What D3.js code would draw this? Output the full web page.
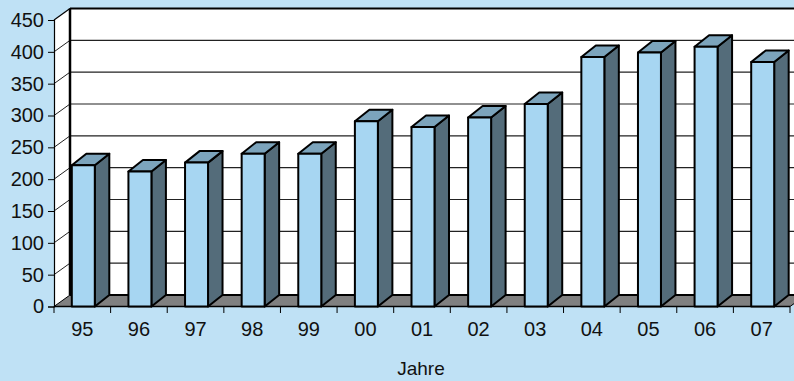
<!DOCTYPE html>
<html><head><meta charset="utf-8">
<script src="https://cdn.jsdelivr.net/npm/d3@7"></script>
<style>
html,body{margin:0;padding:0;background:#bfe1f5;}
svg{display:block;}
text{font-family:"Liberation Sans",Arial,sans-serif;fill:#111;}
</style></head>
<body>
<svg id="chart" width="794" height="381"></svg>
<script>
const categories = ["95","96","97","98","99","00","01","02","03","04","05","06","07"];
const values = [222, 212, 226, 240, 240, 291, 282, 297, 318, 392, 399, 408, 384];
const yTicks = [0,50,100,150,200,250,300,350,400,450];
const xTitle = "Jahre";

const W = 794, H = 381;
const svg = d3.select("#chart");
svg.append("rect").attr("width",W).attr("height",H).attr("fill","#bfe1f5");

const x0 = 54, x1 = 790, yBase = 306.5, yTop = 20;
const wdx = 16, wdy = -11.5;     // wall depth
const bdx = 14.5, bdy = -11.5;   // bar depth

const x = d3.scaleBand().domain(categories).range([x0, x1]).paddingInner(0.594).paddingOuter(0.297);
const y = d3.scaleLinear().domain([0, 450]).range([yBase, yTop]);

const g = svg.append("g");

// back wall
g.append("rect").attr("x", x0+wdx).attr("y", yTop+wdy).attr("width", W-(x0+wdx)+10).attr("height", yBase-yTop).attr("fill","#fff");
// left wall
g.append("polygon").attr("points", [[x0,yTop],[x0+wdx,yTop+wdy],[x0+wdx,yBase+wdy],[x0,yBase]].map(p=>p.join(",")).join(" ")).attr("fill","#fff");
// floor
g.append("polygon").attr("points", [[x0,yBase],[x0+wdx,yBase+wdy],[x1+wdx,yBase+wdy],[x1,yBase]].map(p=>p.join(",")).join(" ")).attr("fill","#808080");

// gridlines
yTicks.filter(v=>v>0 && v<450).forEach(v=>{
  const yy = y(v);
  g.append("line").attr("x1",x0+wdx).attr("x2",W+5).attr("y1",yy+wdy).attr("y2",yy+wdy).attr("stroke","#222").attr("stroke-width",1.2);
  g.append("line").attr("x1",x0).attr("x2",x0+wdx).attr("y1",yy).attr("y2",yy+wdy).attr("stroke","#222").attr("stroke-width",1);
});

// frame edges
g.append("line").attr("x1",x0+wdx).attr("x2",W+5).attr("y1",yTop+wdy).attr("y2",yTop+wdy).attr("stroke","#000").attr("stroke-width",2);
g.append("line").attr("x1",x0).attr("x2",x0+wdx).attr("y1",yTop).attr("y2",yTop+wdy).attr("stroke","#000").attr("stroke-width",1.2);
g.append("line").attr("x1",x0+wdx).attr("x2",x0+wdx).attr("y1",yTop+wdy).attr("y2",yBase+wdy).attr("stroke","#000").attr("stroke-width",2.5);
g.append("line").attr("x1",x0+wdx).attr("x2",x1+wdx).attr("y1",yBase+wdy).attr("y2",yBase+wdy).attr("stroke","#000").attr("stroke-width",2);
g.append("line").attr("x1",x0).attr("x2",x0+wdx).attr("y1",yBase).attr("y2",yBase+wdy).attr("stroke","#000").attr("stroke-width",1);
g.append("line").attr("x1",x0).attr("x2",x1).attr("y1",yBase).attr("y2",yBase).attr("stroke","#000").attr("stroke-width",1.5);
g.append("line").attr("x1",x1).attr("x2",x1+wdx).attr("y1",yBase).attr("y2",yBase+wdy).attr("stroke","#000").attr("stroke-width",1);

// bars
const bw = x.bandwidth();
const bars = g.selectAll("g.bar").data(categories.map((c,i)=>({c, v: values[i]}))).join("g").attr("class","bar");
const pts = a => a.map(p=>p.join(",")).join(" ");
bars.each(function(d){
  const sel = d3.select(this);
  const bx = x(d.c) + 1, yt = y(d.v), yb = yBase;
  sel.append("polygon").attr("points", pts([[bx+bw,yb],[bx+bw+bdx,yb+bdy],[bx+bw+bdx,yt+bdy],[bx+bw,yt]]))
    .attr("fill","#546c7a").attr("stroke","#000").attr("stroke-width",2).attr("stroke-linejoin","round");
  sel.append("polygon").attr("points", pts([[bx,yt],[bx+bdx,yt+bdy],[bx+bw+bdx,yt+bdy],[bx+bw,yt]]))
    .attr("fill","#7ca4bc").attr("stroke","#000").attr("stroke-width",2).attr("stroke-linejoin","round");
  sel.append("rect").attr("x",bx).attr("y",yt).attr("width",bw).attr("height",yb-yt)
    .attr("fill","#a7d6f2").attr("stroke","#000").attr("stroke-width",2).attr("stroke-linejoin","round");
});

// y axis
const yAxis = d3.axisLeft(y).tickValues(yTicks).tickSize(6).tickPadding(4);
const ya = svg.append("g").attr("transform",`translate(${x0},0)`).call(yAxis);
ya.select(".domain").attr("stroke","#000").attr("stroke-width",1.2);
ya.selectAll(".tick line").attr("stroke","#000");
ya.selectAll("text").style("font-size","20px").attr("fill","#111").style("font-family","'Liberation Sans',Arial,sans-serif");

// x axis labels
const xAxis = d3.axisBottom(x).tickSize(0).tickPadding(15);
const xa = svg.append("g").attr("transform",`translate(0,${yBase})`).call(xAxis);
xa.select(".domain").remove();
xa.selectAll("text").style("font-size","20px").attr("fill","#111").style("font-family","'Liberation Sans',Arial,sans-serif");
// category boundary ticks
const step = x.step();
d3.range(categories.length + 1).forEach(i=>{
  const xx = x0 + i*step;
  svg.append("line").attr("x1",xx).attr("x2",xx).attr("y1",yBase).attr("y2",yBase+6.5).attr("stroke","#000").attr("stroke-width",1);
});

svg.append("text").attr("x",421).attr("y",375).attr("text-anchor","middle").style("font-size","19px").text(xTitle);
</script>
</body></html>
